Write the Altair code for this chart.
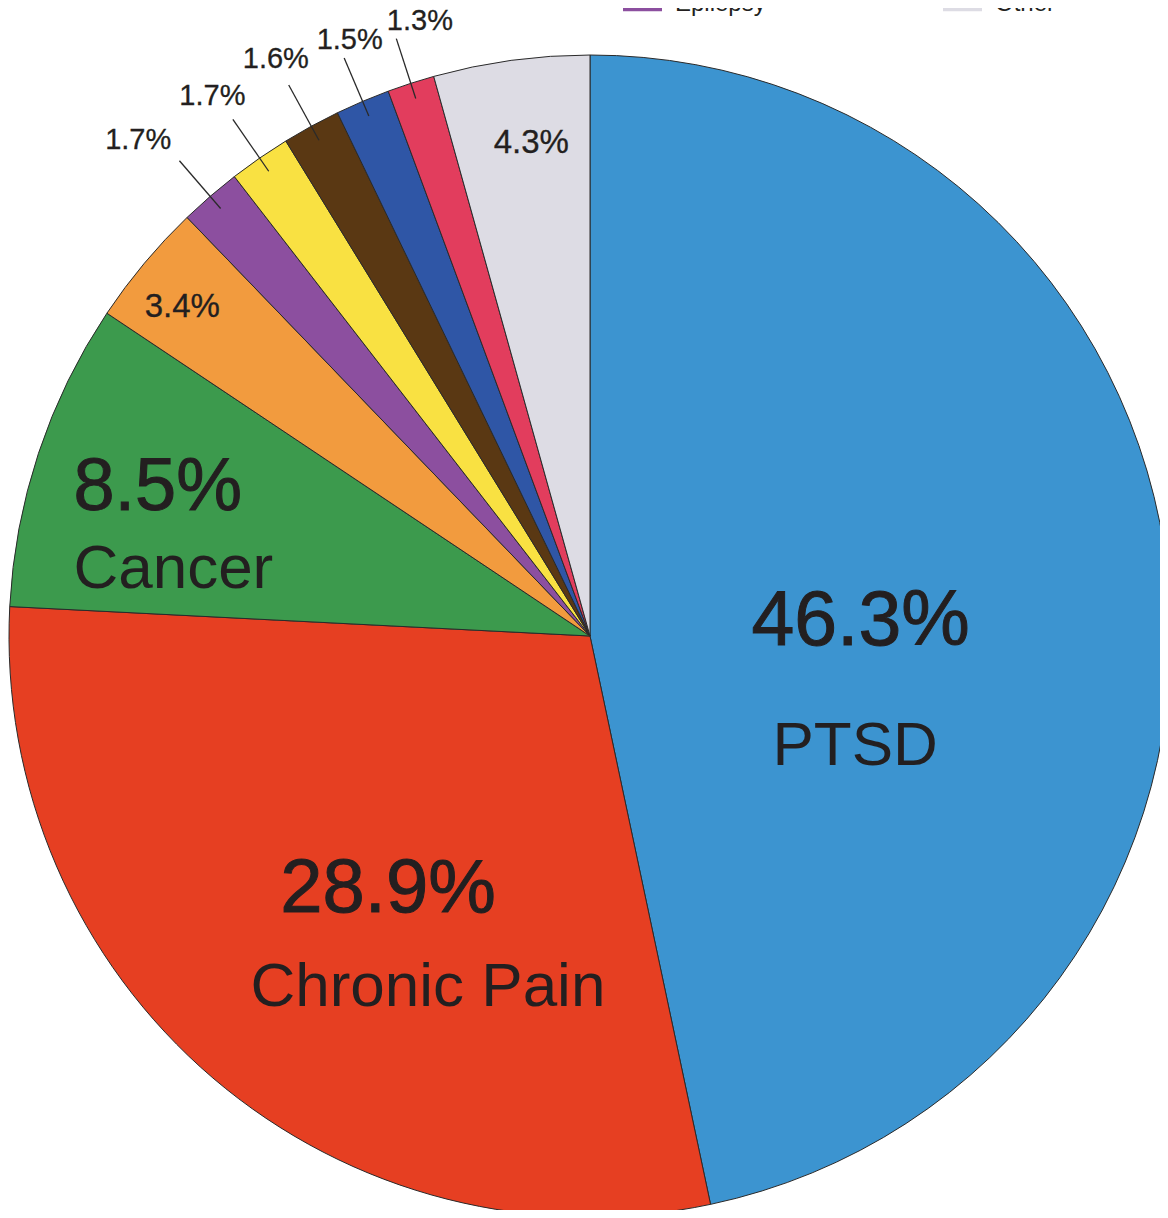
import altair as alt
import pandas as pd

# ---- data ----
categories = ["PTSD", "Chronic Pain", "Cancer", "Neuropathy", "Epilepsy",
              "HIV/AIDS", "Spinal Cord Damage", "Multiple Sclerosis", "Arthritis", "Other"]
values = [46.3, 28.9, 8.5, 3.4, 1.7, 1.7, 1.6, 1.5, 1.3, 4.3]
slice_names = ["PTSD", "Chronic Pain", "Cancer", "", "", "", "", "", "", ""]
legend_shown = ["Epilepsy", "Other"]

# ---- styling / layout ----
colors = ["#3c94d0", "#e63f22", "#3c9a4d", "#f29b3e", "#8c4f9f",
          "#f9e142", "#5a3813", "#2f56a6", "#e23d5d", "#dddce4"]
CX, CY, R = 582, 628, 581
FONT = "Liberation Sans"
INK = "#231f20"
pct_radius = [271, 324, 457, 524, 671, 659, 657, 643, 638, 496]
pct_shift = [3.0, -1.9, 0.6, -1.0, -1.5, -0.3, 0.1, 1.1, 2.5, 1.0]
pct_size = [77, 76, 74, 33, 29, 29, 29, 29, 29, 33]
pct_stroke = [1.0, 1.0, 1.0, 0.3, 0.3, 0.3, 0.3, 0.3, 0.3, 0.3]
name_radius = [287, 387, 422, 0, 0, 0, 0, 0, 0, 0]
name_shift = [28.5, -15.7, -9.2, 0, 0, 0, 0, 0, 0, 0]
name_size = 62
has_leader = [0, 0, 0, 0, 1, 1, 1, 1, 1, 0]
LEAD_R1, LEAD_R2 = 628, 565

df = pd.DataFrame({
    "cat": categories,
    "value": values,
    "idx": list(range(len(categories))),
    "name": slice_names,
    "pct_r": pct_radius,
    "pct_shift": pct_shift,
    "pct_size": pct_size,
    "pct_sw": pct_stroke,
    "name_r": name_radius,
    "name_shift": name_shift,
    "lead": has_leader,
})

base = alt.Chart(df)

slices = base.mark_arc(outerRadius=R, stroke="#2a2a2a", strokeWidth=1).encode(
    x=alt.value(CX),
    y=alt.value(CY),
    theta=alt.Theta("value:Q", stack=True),
    order=alt.Order("idx:Q", sort="ascending"),
    color=alt.Color(
        "cat:N",
        scale=alt.Scale(domain=categories, range=colors),
        legend=alt.Legend(
            values=legend_shown, orient="none", legendX=615, legendY=-36,
            direction="horizontal", columns=2, title=None, padding=0,
            symbolType="square", symbolSize=1521, symbolStrokeWidth=0,
            symbolOpacity=1, labelFontSize=24, labelFont=FONT, labelColor=INK,
            labelBaseline="top",
            labelOffset=13, columnPadding=177, labelLimit=400,
        ),
    ),
)


def angled(chart):
    return (
        chart.transform_joinaggregate(total="sum(value)")
        .transform_window(cum="sum(value)", sort=[alt.SortField("idx")], frame=[None, 0])
        .transform_calculate(mid="2*PI*(datum.cum - datum.value/2)/datum.total")
    )


pct_labels = angled(base).transform_calculate(
    a="datum.mid + datum.pct_shift*PI/180",
    px=f"{CX} + datum.pct_r*sin(datum.a)",
    py=f"{CY} - datum.pct_r*cos(datum.a)",
    label="format(datum.value, '.1f') + '%'",
).mark_text(font=FONT, align="center", baseline="middle", color=INK, fill=INK).encode(
    x=alt.X("px:Q", scale=None),
    y=alt.Y("py:Q", scale=None),
    text="label:N",
    size=alt.Size("pct_size:Q", scale=None),
    stroke=alt.value(INK),
    strokeWidth=alt.StrokeWidth("pct_sw:Q", scale=None),
)

name_labels = angled(base).transform_filter("datum.name != ''").transform_calculate(
    a="datum.mid + datum.name_shift*PI/180",
    px=f"{CX} + datum.name_r*sin(datum.a)",
    py=f"{CY} - datum.name_r*cos(datum.a)",
).mark_text(font=FONT, align="center", baseline="middle", color=INK, fontSize=name_size).encode(
    x=alt.X("px:Q", scale=None),
    y=alt.Y("py:Q", scale=None),
    text="name:N",
)

leaders = angled(base).transform_filter("datum.lead == 1").transform_calculate(
    x1=f"{CX} + {LEAD_R1}*sin(datum.mid)",
    y1=f"{CY} - {LEAD_R1}*cos(datum.mid)",
    x2=f"{CX} + {LEAD_R2}*sin(datum.mid)",
    y2=f"{CY} - {LEAD_R2}*cos(datum.mid)",
).mark_rule(color="#2a2a2a", strokeWidth=1.3).encode(
    x=alt.X("x1:Q", scale=None),
    y=alt.Y("y1:Q", scale=None),
    x2="x2:Q",
    y2="y2:Q",
)

chart = (
    alt.layer(slices, leaders, pct_labels, name_labels)
    .properties(width=1152, height=1202, padding=0, autosize=alt.AutoSizeParams(type="none"))
    .configure(background="white", view=alt.ViewConfig(stroke=None))
)

chart.save("out.html", embed_options={"renderer": "svg", "actions": False})
